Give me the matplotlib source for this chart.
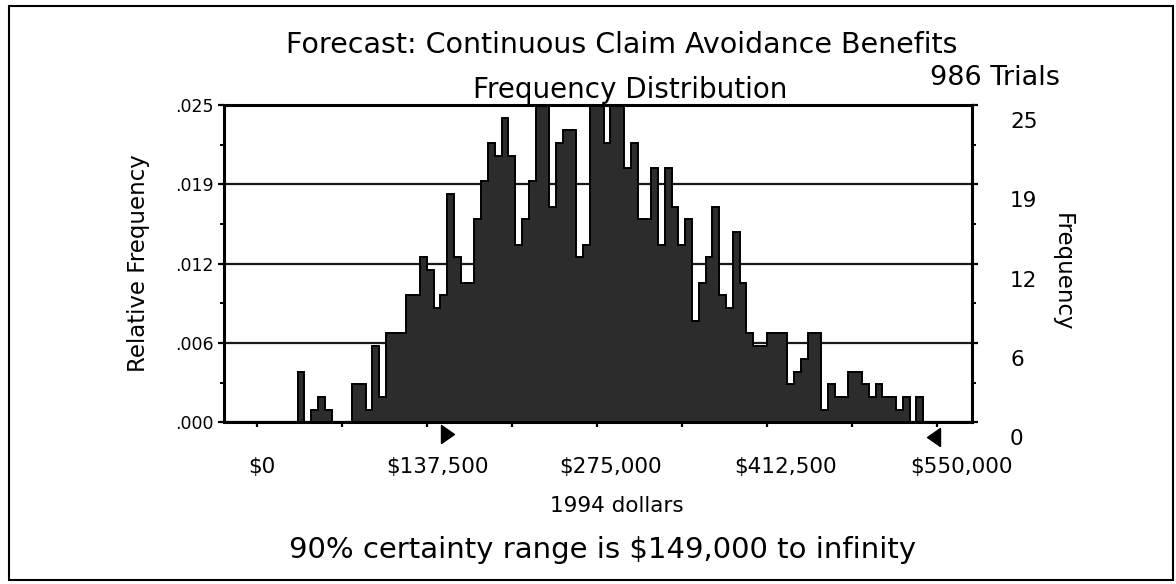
import matplotlib
matplotlib.use("Agg")
import matplotlib.pyplot as plt
from matplotlib.patches import Rectangle
from matplotlib.transforms import ScaledTranslation, blended_transform_factory

plt.rcParams['font.family'] = ['DejaVu Sans']

# ---------------- data ----------------
title = "Forecast: Continuous Claim Avoidance Benefits"
subtitle = "Frequency Distribution"
trials_text = "986 Trials"
n_trials = 986
bin_start = 0
bin_width = 5500
counts = [0, 0, 0, 0, 0, 0, 4, 0, 1, 2,
          1, 0, 0, 0, 3, 3, 1, 6, 2, 7,
          7, 7, 10, 10, 13, 12, 9, 10, 18, 13,
          11, 11, 16, 19, 22, 21, 24, 21, 14, 16,
          19, 26, 25, 17, 22, 23, 23, 13, 14, 25,
          25, 22, 25, 26, 20, 22, 16, 16, 20, 14,
          20, 17, 14, 16, 8, 11, 13, 17, 10, 9,
          15, 11, 7, 6, 6, 7, 7, 7, 3, 4,
          5, 7, 7, 1, 3, 2, 2, 4, 4, 3,
          2, 3, 2, 2, 1, 2, 0, 2, 0, 0]
count_ticks = [0, 6.25, 12.5, 18.75, 25]
rel_labels = [".000", ".006", ".012", ".019", ".025"]
count_labels = ["0", "6", "12", "19", "25"]
x_label_values = [0, 137500, 275000, 412500, 550000]
x_labels = ["$0", "$137,500", "$275,000", "$412,500", "$550,000"]
x_tick_step = 68750
display_min, display_max = 0, 550000
certainty_low = 149000
xlabel = "1994 dollars"
ylabel_left = "Relative Frequency"
ylabel_right = "Frequency"
certainty_text = "90% certainty range is $149,000 to infinity"

# ---------------- figure ----------------
W, H = 1176, 584
fig = plt.figure(figsize=(W / 100, H / 100), dpi=100)
fig.patch.set_facecolor("white")

def fx(px):
    return px / W

def fy(py):
    return 1 - py / H

ax = fig.add_axes([fx(224), fy(422.3), fx(972) - fx(224), fy(105) - fy(422.3)])

edges = [bin_start + i * bin_width for i in range(len(counts) + 1)]
ax.bar(edges[:-1], counts, width=bin_width, align="edge", color="#2c2c2c",
       edgecolor="#2c2c2c", linewidth=0.3, zorder=2)
ax.stairs(counts, edges, color="black", linewidth=1.4, zorder=3)

ax.set_xlim(-26500, 578500)
ax.set_ylim(0, 25)

# y ticks / grid
ax.set_yticks(count_ticks)
ax.set_yticklabels(rel_labels, fontsize=12.5)
minor_y = [(a + b) / 2 for a, b in zip(count_ticks[:-1], count_ticks[1:])]
ax.set_yticks(minor_y, minor=True)
ax.grid(axis="y", which="major", color="#1a1a1a", linewidth=1.6, zorder=0)
ax.tick_params(axis="y", which="major", direction="out", length=4.5, width=1.6,
               left=True, right=True, labelleft=True, labelright=False, pad=3)
ax.tick_params(axis="y", which="minor", direction="out", length=3, width=1.4,
               left=True, right=True)

# x ticks
xt = list(range(display_min, display_max + 1, x_tick_step))
ax.set_xticks(xt)
ax.set_xticklabels([])
ax.tick_params(axis="x", which="major", direction="out", length=3.5, width=1.6, bottom=True)

for s in ax.spines.values():
    s.set_linewidth(2.2)
    s.set_color("black")

# x tick labels (drawn as text, spaced like the original)
lab_tr = blended_transform_factory(ax.transData, ax.transAxes)
x_offsets_px = [5, 10.5, 14, 19, 25]
for v, lab, dx in zip(x_label_values, x_labels, x_offsets_px):
    ax.text(v, 0, lab, transform=lab_tr + ScaledTranslation(dx / 100, -51 / 100, fig.dpi_scale_trans),
            ha="center", va="baseline", fontsize=15.5, clip_on=False)

# right-hand count labels
rt = blended_transform_factory(ax.transAxes, ax.transData)
for v, lab in zip(count_ticks, count_labels):
    ax.text(1.0, v, lab, transform=rt + ScaledTranslation(38 / 100, -23 / 100, fig.dpi_scale_trans),
            ha="left", va="baseline", fontsize=15.5, clip_on=False)

# certainty markers
tri_r = [(0, -1), (0, 1), (1.44, 0), (0, -1)]
tri_l = [(0, -1), (0, 1), (-1.44, 0), (0, -1)]
ax.plot([certainty_low], [0], marker=tri_r, markersize=18.7, color="black", linestyle="none",
        transform=ax.transData + ScaledTranslation(0, -12 / 100, fig.dpi_scale_trans), clip_on=False)
ax.plot([display_max], [0], marker=tri_l, markersize=18.7, color="black", linestyle="none",
        transform=ax.transData + ScaledTranslation(3 / 100, -15 / 100, fig.dpi_scale_trans), clip_on=False)

# texts
fig.text(fx(622), fy(53), title, ha="center", va="baseline", fontsize=20.5)
fig.text(fx(630), fy(98), subtitle, ha="center", va="baseline", fontsize=20)
fig.text(fx(930), fy(85), trials_text, ha="left", va="baseline", fontsize=19.5)
fig.text(fx(138), fy(263), ylabel_left, rotation=90, ha="center", va="center", fontsize=16.5)
fig.text(fx(1062), fy(272), ylabel_right, rotation=-90, ha="center", va="center", fontsize=16.5)
fig.text(fx(617), fy(512), xlabel, ha="center", va="baseline", fontsize=15.5)
fig.text(fx(603), fy(558), certainty_text, ha="center", va="baseline", fontsize=21)

# outer frame
fig.patches.append(Rectangle((fx(9), fy(580)), fx(1173) - fx(9), fy(6) - fy(580),
                             transform=fig.transFigure, fill=False, edgecolor="black", linewidth=1.5))

fig.savefig("out.png", dpi=100)
